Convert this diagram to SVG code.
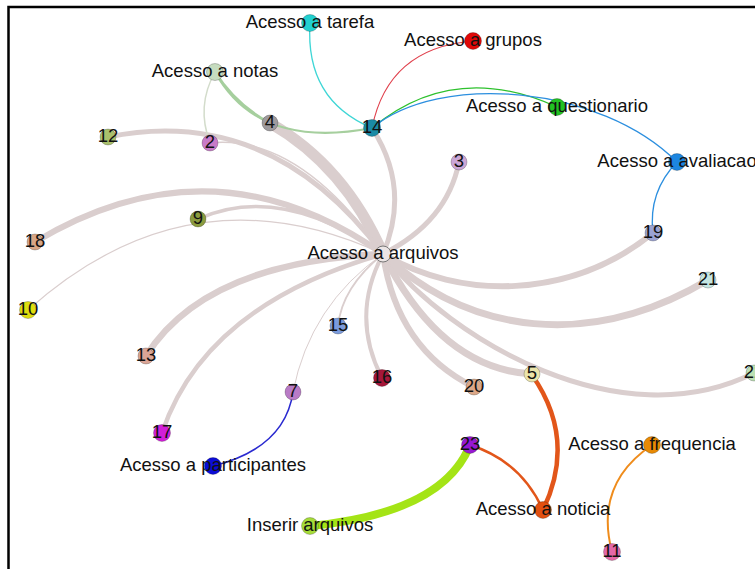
<svg xmlns="http://www.w3.org/2000/svg" width="755" height="569" viewBox="0 0 755 569">
<style>
.e{fill:none;stroke:#dacece;stroke-linecap:round}
.c{fill:none;stroke-linecap:round}
.n{stroke:#000;stroke-opacity:0.28;stroke-width:0.8}
text{font-family:"Liberation Sans",Arial,sans-serif;font-size:18.5px;fill:#111;text-anchor:middle}
</style>
<rect width="755" height="569" fill="#fff"/>
<path d="M8.5,569 V7 H755" fill="none" stroke="#000" stroke-width="2.5"/>
<g id="connectors">
<path class="e" stroke-width="11" d="M270,123 Q345,166 383,254"/>
<path class="e" stroke-width="5" d="M372,128 Q411,188 383,254"/>
<path class="e" stroke-width="5" d="M459,162 Q447,222 383,254"/>
<path class="e" stroke-width="5" d="M108,137 Q271,104 383,254"/>
<path class="e" stroke-width="1.5" d="M210,143 Q299,134 383,254"/>
<path class="e" stroke-width="6" d="M35,242 Q213,135 383,254"/>
<path class="e" stroke-width="3.5" d="M198,219 Q280,182 383,254"/>
<path class="e" stroke-width="1.2" d="M28,310 Q190,165 383,254"/>
<path class="e" stroke-width="6.5" d="M146,356 Q205,262 383,254"/>
<path class="e" stroke-width="4.5" d="M162,433 Q205,305 383,254"/>
<path class="e" stroke-width="1" d="M293,392 Q310,305 383,254"/>
<path class="e" stroke-width="1.8" d="M338,326 Q342,287 383,254"/>
<path class="e" stroke-width="4" d="M382,378 Q350,316 383,254"/>
<path class="e" stroke-width="6" d="M474,387 Q397,349 383,254"/>
<path class="e" stroke-width="7" d="M532,374 Q441,369 383,254"/>
<path class="e" stroke-width="5" d="M754,373 C620,440 450,340 383,254"/>
<path class="e" stroke-width="7" d="M708,280 C590,350 470,335 383,254"/>
<path class="e" stroke-width="6" d="M653,233 C570,300 460,300 383,254"/>
<path class="c" stroke="#3fd6d6" stroke-width="1.3" d="M372,128 Q305,100 310,23"/>
<path class="c" stroke="#e0404c" stroke-width="1.1" d="M372,128 Q388,48 473,41"/>
<path class="c" stroke="#2ec12e" stroke-width="1.3" d="M372,128 Q454,60 557,107"/>
<path class="c" stroke="#2c8fdf" stroke-width="1.3" d="M372,128 C440,72 600,85 677,162"/>
<path class="c" stroke="#2c8fdf" stroke-width="1.3" d="M653,233 Q648,192 677,162"/>
<path class="c" stroke="#a6cf9e" stroke-width="2.2" d="M372,128 Q258,150 215,72"/>
<path class="c" stroke="#a6cf9e" stroke-width="2.5" d="M270,123 Q236,105 215,72"/>
<path class="c" stroke="#d3dccb" stroke-width="1.5" d="M210,143 Q196,106 215,72"/>
<path class="c" stroke="#2a2ad0" stroke-width="1.6" d="M293,392 Q285,448 213,466"/>
<path class="c" stroke="#a4e416" stroke-width="8" d="M470,445 Q443,513 310,526"/>
<path class="c" stroke="#e2561a" stroke-width="2.5" d="M470,445 Q521,461 543,510"/>
<path class="c" stroke="#e2561a" stroke-width="4.5" d="M532,375 Q577,439 543,510"/>
<path class="c" stroke="#ef8c1c" stroke-width="2" d="M612,552 Q594,484 652,445"/>
</g>
<g id="node-arquivos"><circle cx="383" cy="254" r="8" fill="#ece5e5" stroke="#777" stroke-width="1"/><text x="383" y="259">Acesso a arquivos</text></g>
<g id="node-14"><circle class="n" cx="372" cy="128" r="8.5" fill="#1b8aa5"/><text x="372" y="133">14</text></g>
<g id="node-4"><circle class="n" cx="270" cy="123" r="8" fill="#9e9a9e"/><text x="270" y="128">4</text></g>
<g id="node-2"><circle class="n" cx="210" cy="143" r="8" fill="#c87ac8"/><text x="210" y="148">2</text></g>
<g id="node-12"><circle class="n" cx="108" cy="137" r="8" fill="#a9c06c"/><text x="108" y="142">12</text></g>
<g id="node-notas"><circle class="n" cx="215" cy="72" r="8.5" fill="#c6dcbf"/><text x="215" y="77">Acesso a notas</text></g>
<g id="node-tarefa"><circle class="n" cx="310" cy="23" r="8.5" fill="#22d0d0"/><text x="310" y="28">Acesso a tarefa</text></g>
<g id="node-grupos"><circle class="n" cx="473" cy="41" r="8.5" fill="#e00808"/><text x="473" y="46">Acesso a grupos</text></g>
<g id="node-questionario"><circle class="n" cx="557" cy="107" r="8.5" fill="#22c222"/><text x="557" y="112">Acesso a questionario</text></g>
<g id="node-avaliacao"><circle class="n" cx="677" cy="162" r="8.5" fill="#1d86e0"/><text x="677" y="167">Acesso a avaliacao</text></g>
<g id="node-3"><circle class="n" cx="459" cy="162" r="8" fill="#cba6d6"/><text x="459" y="167">3</text></g>
<g id="node-9"><circle class="n" cx="198" cy="219" r="8" fill="#8b9b3e"/><text x="198" y="224">9</text></g>
<g id="node-18"><circle class="n" cx="35" cy="242" r="8" fill="#d8a686"/><text x="35" y="247">18</text></g>
<g id="node-10"><circle class="n" cx="28" cy="310" r="8.5" fill="#dede10"/><text x="28" y="315">10</text></g>
<g id="node-19"><circle class="n" cx="653" cy="233" r="8" fill="#9ba3d3"/><text x="653" y="238">19</text></g>
<g id="node-21"><circle class="n" cx="708" cy="280" r="8" fill="#c5e6e2"/><text x="708" y="285">21</text></g>
<g id="node-15"><circle class="n" cx="338" cy="326" r="8" fill="#7b9bdc"/><text x="338" y="331">15</text></g>
<g id="node-13"><circle class="n" cx="146" cy="356" r="8" fill="#dba596"/><text x="146" y="361">13</text></g>
<g id="node-16"><circle class="n" cx="382" cy="378" r="8.5" fill="#a6173a"/><text x="382" y="383">16</text></g>
<g id="node-7"><circle class="n" cx="293" cy="392" r="8" fill="#b97bc6"/><text x="293" y="397">7</text></g>
<g id="node-20"><circle class="n" cx="474" cy="387" r="8" fill="#dca888"/><text x="474" y="392">20</text></g>
<g id="node-5"><circle class="n" cx="532" cy="374" r="8" fill="#ebe4aa"/><text x="532" y="379">5</text></g>
<g id="node-22"><circle class="n" cx="754" cy="373" r="8" fill="#bce0b4"/><text x="754" y="378">22</text></g>
<g id="node-17"><circle class="n" cx="162" cy="433" r="8.5" fill="#d21ed8"/><text x="162" y="438">17</text></g>
<g id="node-participantes"><circle class="n" cx="213" cy="466" r="8.5" fill="#0c0cd6"/><text x="213" y="471">Acesso a participantes</text></g>
<g id="node-23"><circle class="n" cx="470" cy="445" r="8.5" fill="#9618d2"/><text x="470" y="450">23</text></g>
<g id="node-frequencia"><circle class="n" cx="652" cy="445" r="8.5" fill="#e88a04"/><text x="652" y="450">Acesso a frequencia</text></g>
<g id="node-noticia"><circle class="n" cx="543" cy="510" r="8.5" fill="#e25010"/><text x="543" y="515">Acesso a noticia</text></g>
<g id="node-inserir"><circle class="n" cx="310" cy="526" r="8.5" fill="#a6dc3a"/><text x="310" y="531">Inserir arquivos</text></g>
<g id="node-11"><circle class="n" cx="612" cy="552" r="8.5" fill="#e468a8"/><text x="612" y="557">11</text></g>
</svg>
